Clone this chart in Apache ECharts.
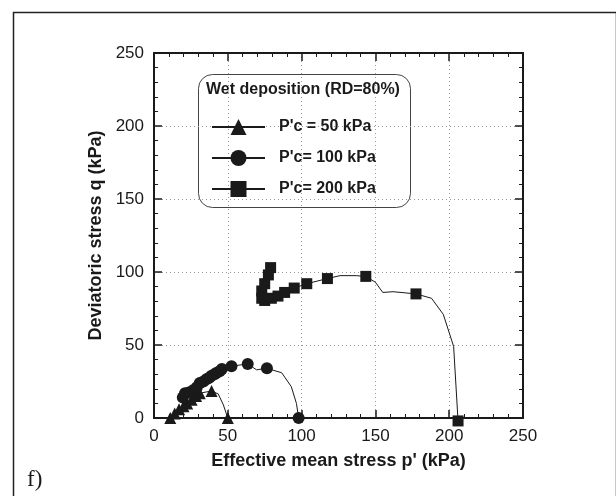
<!DOCTYPE html>
<html><head><meta charset="utf-8">
<script src="https://cdn.jsdelivr.net/npm/echarts@6/dist/echarts.min.js"></script>
<style>html,body{margin:0;padding:0;background:#fff}#c{width:616px;height:496px}</style>
</head><body><div id="c"></div>
<script>
const xTicks = [0, 50, 100, 150, 200, 250];
const yTicks = [0, 50, 100, 150, 200, 250];
const seriesNames = ["P'c = 50 kPa", "P'c= 100 kPa", "P'c= 200 kPa"];
const legendTitle = "Wet deposition (RD=80%)";
const xName = "Effective mean stress p' (kPa)";
const yName = "Deviatoric stress q (kPa)";
const panelLabel = "f)";

// P'c = 50 kPa (triangles); mark = 1 where a measured marker is drawn
const triP = [11, 14, 17, 20, 22.5, 25.5, 28.5, 31, 39, 43.5, 47, 50];
const triQ = [0, 3, 6, 8, 10, 12.5, 15, 17, 18.5, 16.5, 9, 0];
const triMark = [1, 1, 1, 1, 1, 1, 1, 1, 1, 0, 0, 1];

// P'c = 100 kPa (circles)
const cirP = [19.5, 21, 23.5, 26.5, 29, 31, 33.5, 35.5, 37.5, 39, 41, 42.5, 44.5, 46, 52.5, 63.5, 69.5, 76.5, 86.5, 93, 96.5, 98];
const cirQ = [14, 17, 17.5, 19, 21, 24, 25, 26.5, 27.5, 29, 30, 31, 32, 33.5, 35.5, 37, 33, 34, 31, 21.5, 10, 0];
const cirMark = [1, 1, 1, 1, 1, 1, 1, 1, 1, 1, 1, 1, 1, 1, 1, 1, 0, 1, 0, 0, 0, 1];

// P'c = 200 kPa (squares)
const sqP = [79, 77.5, 75, 73, 73, 75, 79.5, 84, 88.5, 95, 103.5, 117.5, 126, 137, 143.5, 150, 155, 162, 177.5, 188, 196, 203, 206];
const sqQ = [103, 98, 92, 87, 82, 80.5, 82, 83.5, 86, 89, 92, 95.5, 97.5, 97.5, 97, 93, 86, 86.5, 85, 82, 71, 49, -2];
const sqMark = [1, 1, 1, 1, 1, 1, 1, 1, 1, 1, 1, 1, 0, 0, 1, 0, 0, 0, 1, 0, 0, 0, 1];

function build(P, Q, M) {
  return P.map((p, i) => M[i] ? [p, Q[i]] : {value: [p, Q[i]], symbol: 'none'});
}

const chart = echarts.init(document.getElementById('c'), null, {renderer: 'canvas'});
const FONT = 'Liberation Sans, Arial, sans-serif';
const INK = '#1a1a1a';

function axisCommon(show) {
  return {
    type: 'value', min: 0, max: 250, interval: 50,
    axisLine: {show: true, onZero: false, lineStyle: {color: INK, width: 2}},
    axisTick: {show: true, inside: true, length: 8, lineStyle: {color: INK, width: 1.5}},
    minorTick: {show: true, splitNumber: 5, length: 4, lineStyle: {color: INK, width: 1}},
    axisLabel: {show: show, color: INK, fontFamily: FONT, fontSize: 17, margin: 10,
      formatter: v => String(v)},
    splitLine: {show: show, lineStyle: {color: '#999', type: [1, 3], width: 1}}
  };
}

const xMain = Object.assign(axisCommon(true), {
  position: 'bottom', name: xName, nameLocation: 'middle', nameGap: 34,
  nameTextStyle: {color: INK, fontFamily: FONT, fontWeight: 'bold', fontSize: 18}
});
const xTop = Object.assign(axisCommon(false), {position: 'top'});
const yMain = Object.assign(axisCommon(true), {
  position: 'left', name: yName, nameLocation: 'middle', nameGap: 38,
  nameTextStyle: {color: INK, fontFamily: FONT, fontWeight: 'bold', fontSize: 18}
});
const yRight = Object.assign(axisCommon(false), {position: 'right'});

function lineSeries(name, P, Q, M, sym, size) {
  return {
    name: name, type: 'line', xAxisIndex: 0, yAxisIndex: 0,
    data: build(P, Q, M), symbol: sym, symbolSize: size, showSymbol: true,
    clip: false, smooth: false, animation: false,
    lineStyle: {color: INK, width: 1},
    itemStyle: {color: INK, borderWidth: 0}
  };
}

chart.setOption({
  animation: false,
  backgroundColor: '#fff',
  grid: {left: 154, top: 53, right: 93, bottom: 78, containLabel: false},
  xAxis: [xMain, xTop],
  yAxis: [yMain, yRight],
  legend: {
    show: true, orient: 'vertical', left: 206, top: 114, z: 100, zlevel: 0,
    itemWidth: 53, itemHeight: 20, itemGap: 15,
    data: seriesNames,
    textStyle: {color: INK, fontFamily: FONT, fontWeight: 'bold', fontSize: 16, padding: [0, 0, 0, 9]}
  },
  series: [
    lineSeries(seriesNames[0], triP, triQ, triMark, 'triangle', 12),
    lineSeries(seriesNames[1], cirP, cirQ, cirMark, 'circle', 12),
    lineSeries(seriesNames[2], sqP, sqQ, sqMark, 'rect', 11)
  ],
  graphic: {
    z: 1,
    elements: [
      {type: 'rect', left: 11, top: 10, shape: {width: 603, height: 500},
        style: {fill: 'none', stroke: '#222', lineWidth: 1.5}},
      {type: 'rect', left: 198, top: 74, shape: {width: 212, height: 133, r: 14},
        style: {fill: '#fff', stroke: '#444', lineWidth: 1}},
      {type: 'text', left: 206, top: 82,
        style: {text: legendTitle, fill: INK, font: 'bold 16px ' + FONT}},
      {type: 'text', left: 27, top: 468,
        style: {text: panelLabel, fill: INK, font: '23px Liberation Serif, serif'}}
    ]
  }
});
</script></body></html>
